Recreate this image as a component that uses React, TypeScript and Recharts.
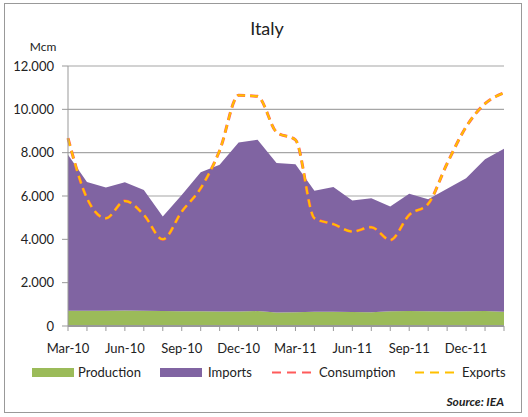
import React from 'react';
import { ComposedChart, Area, Line, XAxis, YAxis, CartesianGrid } from 'recharts';

const months = ['Mar-10','Apr-10','May-10','Jun-10','Jul-10','Aug-10','Sep-10','Oct-10','Nov-10','Dec-10','Jan-11','Feb-11','Mar-11','Apr-11','May-11','Jun-11','Jul-11','Aug-11','Sep-11','Oct-11','Nov-11','Dec-11','Jan-12','Feb-12'];
const production = [700,700,700,710,700,690,680,680,670,670,690,620,640,660,660,650,640,680,690,680,670,680,690,660];
const imports = [7200,5950,5690,5930,5580,4360,5370,6420,6770,7800,7910,6900,6830,5580,5750,5140,5260,4830,5410,5170,5660,6140,7010,7520];
const consumption = [8670,5900,4975,5775,5130,4000,5280,6360,8100,10650,10600,8950,8590,4975,4700,4360,4560,3970,5130,5640,7500,9190,10260,10760];
const exportsArr = [8670,5900,4975,5775,5130,4000,5280,6360,8100,10650,10600,8950,8590,4975,4700,4360,4560,3970,5130,5640,7500,9190,10260,10760];
const yTicks = [0,2000,4000,6000,8000,10000,12000];

const data = months.map((m, i) => ({
  month: m,
  production: production[i],
  imports: imports[i],
  consumption: consumption[i],
  exports: exportsArr[i],
}));

const FONT = 'Lato, "Open Sans", sans-serif';
const GREEN = '#9BBB59';
const PURPLE = '#8064A2';
const RED = '#FF5B5B';
const ORANGE = '#FFC000';

const fmt = (v: number) => (v === 0 ? '0' : (v / 1000).toFixed(3));

const XTick = (props: any) => {
  const { x, y, payload, index } = props;
  if (index % 3 !== 0) return null;
  return (
    <text x={x} y={y + 20} textAnchor="middle" fontFamily={FONT} fontSize={13} fill="#222">
      {payload.value}
    </text>
  );
};

const legendItems = [
  { label: 'Production', color: GREEN, type: 'rect', x: 32, tx: 78 },
  { label: 'Imports', color: PURPLE, type: 'rect', x: 160, tx: 208 },
  { label: 'Consumption', color: RED, type: 'dash', x: 272, tx: 319 },
  { label: 'Exports', color: ORANGE, type: 'dash', x: 415, tx: 462 },
];

export default function App() {
  return (
    <div style={{ position: 'absolute', left: 0, top: 0, width: 528, height: 417, background: '#fff' }}>
      <div style={{ position: 'absolute', left: 4, top: 3, width: 518, height: 410, border: '1.5px solid #999', boxSizing: 'border-box' }} />
      <div style={{ position: 'absolute', left: 0, top: 0 }}>
        <ComposedChart width={528} height={417} data={data} margin={{ top: 66, right: 24, bottom: 61, left: 8 }}>
          <text x={267} y={35} textAnchor="middle" fontFamily={FONT} fontSize={18} fill="#222">Italy</text>
          <text x={43} y={51} textAnchor="middle" fontFamily={FONT} fontSize={12} fill="#222">Mcm</text>
          <CartesianGrid horizontal vertical={false} stroke="#a6a6a6" strokeWidth={1.2} />
          <XAxis
            dataKey="month"
            interval={0}
            height={30}
            tick={<XTick />}
            tickSize={5}
            axisLine={{ stroke: '#999', strokeWidth: 2 }}
            tickLine={{ stroke: '#999' }}
          />
          <YAxis
            width={60}
            domain={[0, 12000]}
            ticks={yTicks}
            tickFormatter={fmt}
            tickSize={6}
            tickMargin={8}
            axisLine={{ stroke: '#999' }}
            tickLine={{ stroke: '#999' }}
            tick={{ fontFamily: FONT, fontSize: 13, fill: '#222' }}
          />
          <Area type="linear" dataKey="production" stackId="a" stroke="none" fill={GREEN} fillOpacity={1} isAnimationActive={false} />
          <Area type="linear" dataKey="imports" stackId="a" stroke="none" fill={PURPLE} fillOpacity={1} isAnimationActive={false} />
          <Line type="monotone" dataKey="consumption" stroke={RED} strokeWidth={3} strokeDasharray="8 5" dot={false} isAnimationActive={false} />
          <Line type="monotone" dataKey="exports" stroke={ORANGE} strokeWidth={2} strokeDasharray="8 5" dot={false} isAnimationActive={false} />
        </ComposedChart>
      </div>
      <svg width={528} height={50} style={{ position: 'absolute', left: 0, top: 360, display: 'block' }}>
        {legendItems.map((it) => (
          <g key={it.label}>
            {it.type === 'rect' ? (
              <rect x={it.x} y={8} width={42} height={9} fill={it.color} />
            ) : (
              <line x1={it.x} x2={it.x + 40} y1={12.5} y2={12.5} stroke={it.color} strokeWidth={2} strokeDasharray="9 6" />
            )}
            <text x={it.tx} y={17} fontFamily={FONT} fontSize={13} fill="#222">{it.label}</text>
          </g>
        ))}
        <text x={504} y={46} textAnchor="end" fontFamily={FONT} fontSize={12} fontWeight="bold" fontStyle="italic" fill="#222">Source: IEA</text>
      </svg>
    </div>
  );
}
